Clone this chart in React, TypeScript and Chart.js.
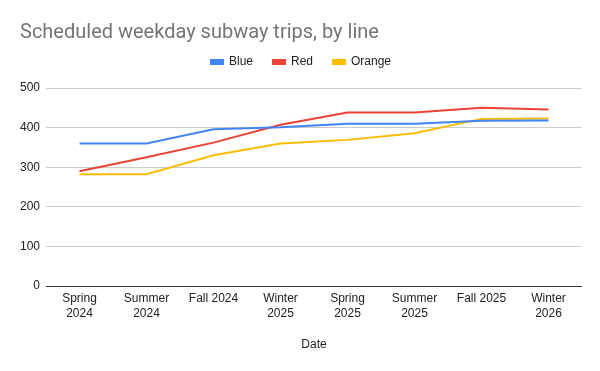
import React, { useEffect, useRef } from "react";
import { Chart, registerables } from "chart.js";

Chart.register(...registerables);

const categories: string[][] = [
  ["Spring", "2024"],
  ["Summer", "2024"],
  ["Fall 2024"],
  ["Winter", "2025"],
  ["Spring", "2025"],
  ["Summer", "2025"],
  ["Fall 2025"],
  ["Winter", "2026"],
];
const blueTrips = [360, 360, 396, 401, 410, 410, 417, 418];
const redTrips = [290, 325, 362, 407, 438, 438, 450, 446];
const orangeTrips = [282, 282, 330, 360, 369, 386, 422, 423];
const yTicks = [0, 100, 200, 300, 400, 500];
const chartTitle = "Scheduled weekday subway trips, by line";

const legendSizer = {
  id: "legendSizer",
  beforeInit(chart: any) {
    const legend = chart.legend;
    if (!legend) return;
    const origFit = legend.fit;
    legend.fit = function () {
      origFit.call(this);
      this.height = 52;
    };
  },
};

const titleDrawer = {
  id: "titleDrawer",
  afterDraw(chart: any) {
    const ctx = chart.ctx;
    ctx.save();
    ctx.font = "20px Roboto, sans-serif";
    ctx.fillStyle = "#757575";
    ctx.textAlign = "left";
    ctx.textBaseline = "alphabetic";
    ctx.fillText(chartTitle, 20, 38);
    ctx.restore();
  },
};

export default function App() {
  const ref = useRef<HTMLCanvasElement | null>(null);
  useEffect(() => {
    document.body.style.margin = "0";
    const canvas = ref.current;
    if (!canvas) return;
    const font = "'Liberation Sans', Arial, sans-serif";
    const chart = new Chart(canvas, {
      type: "line",
      data: {
        labels: categories,
        datasets: [
          { label: "Blue", data: blueTrips, borderColor: "#4285F4", backgroundColor: "#4285F4" },
          { label: "Red", data: redTrips, borderColor: "#EA4335", backgroundColor: "#EA4335" },
          { label: "Orange", data: orangeTrips, borderColor: "#FBBC04", backgroundColor: "#FBBC04" },
        ].map((d) => ({ ...d, borderWidth: 2, pointRadius: 0, pointHoverRadius: 0, tension: 0 })),
      },
      options: {
        animation: false,
        responsive: false,
        maintainAspectRatio: false,
        layout: { padding: { left: 20, right: 18, top: 36, bottom: 0 } },
        plugins: {
          title: { display: false },
          legend: {
            display: true,
            position: "top",
            align: "center",
            labels: {
              boxWidth: 12,
              boxHeight: 4,
              padding: 20,
              color: "#222",
              font: { family: font, size: 12 },
            },
          },
          tooltip: { enabled: false },
        },
        scales: {
          x: {
            offset: true,
            afterFit: (axis: any) => {
              axis.height = 85;
            },
            grid: { display: false, drawTicks: false },
            border: { display: false },
            ticks: {
              color: "#222",
              font: { family: font, size: 12, lineHeight: 1.25 },
              padding: 5,
              maxRotation: 0,
              autoSkip: false,
            },
            title: {
              display: true,
              text: "Date",
              color: "#222",
              font: { family: font, size: 12, lineHeight: 1.25 },
              padding: { top: 10, bottom: 18.5 },
            },
          },
          y: {
            min: yTicks[0],
            max: yTicks[yTicks.length - 1],
            afterBuildTicks: (axis: any) => {
              axis.ticks = yTicks.map((v) => ({ value: v }));
            },
            afterFit: (axis: any) => {
              axis.width = 26;
            },
            grid: {
              drawTicks: false,
              color: (ctx: any) => (ctx.tick && ctx.tick.value === 0 ? "#333333" : "#cccccc"),
              lineWidth: 1,
            },
            border: { display: false },
            ticks: {
              color: "#222",
              font: { family: font, size: 12 },
              padding: 6,
            },
          },
        },
      },
      plugins: [legendSizer, titleDrawer],
    });
    return () => chart.destroy();
  }, []);
  return (
    <div style={{ width: 600, height: 371 }}>
      <canvas ref={ref} width={600} height={371} style={{ display: "block", width: 600, height: 371 }} />
    </div>
  );
}
